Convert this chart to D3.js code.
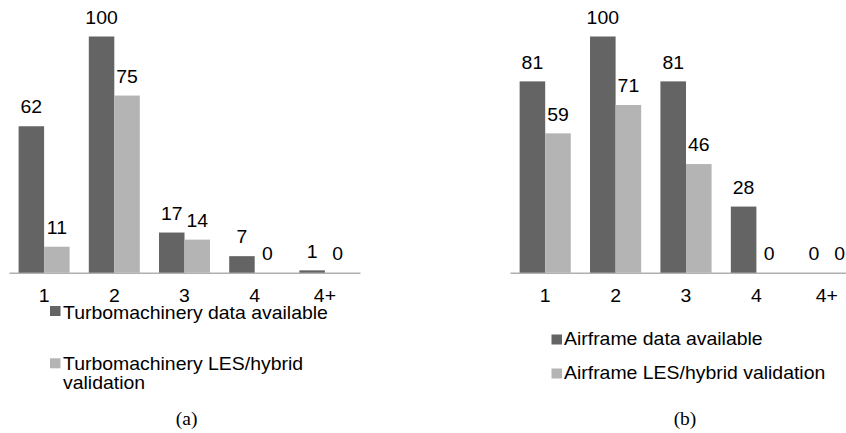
<!DOCTYPE html>
<html>
<head>
<meta charset="utf-8">
<script src="https://cdn.jsdelivr.net/npm/d3@7"></script>
<style>
  html, body { margin: 0; padding: 0; background: #fff; }
  svg { display: block; }
</style>
</head>
<body>
<div id="chart"></div>
<script>
// ---- data ----
const categories = ["1", "2", "3", "4", "4+"];
const turboAvailable = [62, 100, 17, 7, 1];
const turboValidation = [11, 75, 14, 0, 0];
const airframeAvailable = [81, 100, 81, 28, 0];
const airframeValidation = [59, 71, 46, 0, 0];
const turboLegend = ["Turbomachinery data available", ["Turbomachinery LES/hybrid", "validation"]];
const airframeLegend = ["Airframe data available", ["Airframe LES/hybrid validation"]];
const captions = ["(a)", "(b)"];

const W = 846, H = 433;
const DARK = "#646464", LIGHT = "#b4b4b4";
const FONT = "'Liberation Sans', Arial, sans-serif";
const FS = 18, SX = 1.08;

const svg = d3.select("#chart").append("svg").attr("width", W).attr("height", H);

const y = d3.scaleLinear().domain([0, 100]).range([272.7, 36.5]);

function stretchText(parent, x, yy, str, anchor, opts = {}) {
  const g = parent.append("g").attr("transform", `translate(${x},${yy}) scale(${opts.sx || SX},1)`);
  return g.append("text")
    .attr("x", 0).attr("y", 0)
    .attr("text-anchor", anchor)
    .attr("font-family", opts.family || FONT)
    .attr("font-size", opts.size || FS)
    .attr("fill", "#000")
    .text(str);
}

function panel(cfg) {
  const g = svg.append("g");
  const x0 = d3.scaleBand().domain(categories).range(cfg.range)
    .paddingInner(0.2735).paddingOuter(0.13675);
  const x1 = d3.scaleBand().domain([0, 1]).range([0, x0.bandwidth()]);
  const series = [cfg.a, cfg.b];
  const colors = [DARK, LIGHT];

  // axis
  const axis = d3.axisBottom(x0).tickSize(0).tickSizeOuter(0).tickPadding(16.5);
  const ag = g.append("g").attr("transform", `translate(0,${y(0)})`).call(axis);
  ag.select(".domain").attr("stroke", "#b0b0b0").attr("stroke-width", 1.6);
  ag.selectAll(".tick text")
    .attr("font-family", FONT).attr("font-size", FS).attr("fill", "#000")
    .attr("transform", `scale(${SX},1)`);

  series.forEach((vals, si) => {
    g.append("g").selectAll("rect").data(vals).join("rect")
      .attr("x", (d, i) => x0(categories[i]) + x1(si))
      .attr("y", d => y(d))
      .attr("width", x1.bandwidth())
      .attr("height", d => y(0) - y(d))
      .attr("fill", colors[si]);
    vals.forEach((v, i) => {
      stretchText(g, x0(categories[i]) + x1(si) + x1.bandwidth() / 2, y(v) - 12.8, String(v), "middle");
    });
  });

  // legend
  cfg.legend.forEach((lab, li) => {
    const L = cfg.legendPos[li];
    g.append("rect").attr("x", L.sx).attr("y", L.sy).attr("width", 10.5).attr("height", 10)
      .attr("fill", colors[li]);
    const lines = Array.isArray(lab) ? lab : [lab];
    lines.forEach((t, k) => stretchText(g, L.tx, L.ty + k * 18.5, t, "start"));
  });

  // caption
  stretchText(g, cfg.capX, 425, cfg.caption, "middle",
    { family: "'Liberation Serif', 'Times New Roman', serif", size: 19.5, sx: 1.0 });
}

panel({
  range: [9, 360], a: turboAvailable, b: turboValidation, legend: turboLegend,
  legendPos: [{ sx: 50, sy: 306, tx: 63, ty: 318.5 }, { sx: 50, sy: 358.3, tx: 63, ty: 370 }],
  caption: captions[0], capX: 186.7
});
panel({
  range: [510, 862], a: airframeAvailable, b: airframeValidation, legend: airframeLegend,
  legendPos: [{ sx: 551.5, sy: 334.5, tx: 564, ty: 345 }, { sx: 551.5, sy: 368.5, tx: 564, ty: 379 }],
  caption: captions[1], capX: 685
});
</script>
</body>
</html>
